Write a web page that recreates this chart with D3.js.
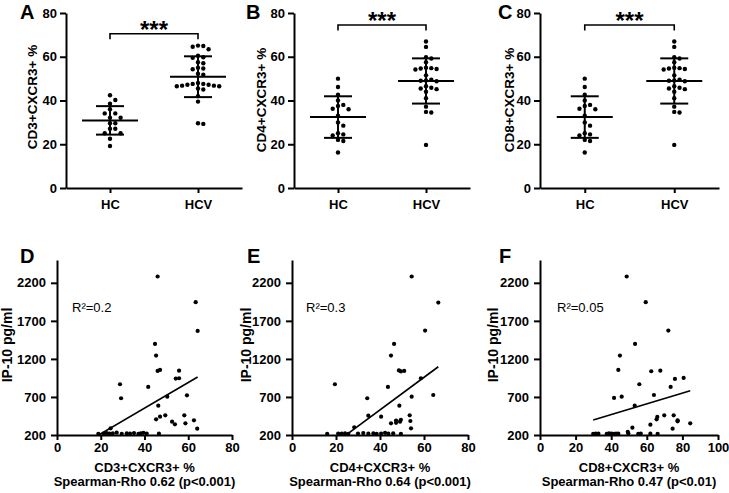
<!DOCTYPE html>
<html><head><meta charset="utf-8">
<script src="https://cdn.jsdelivr.net/npm/d3@7"></script>
<style>
body{margin:0;background:#fff}
text{font-family:"Liberation Sans",Arial,sans-serif}
</style>
</head><body>
<svg id="chart" width="729" height="493"></svg>
<script>
// ---------- data: top row (dot plots) ----------
const groups = ["HC", "HCV"];
const topTicks = [0, 20, 40, 60, 80];
const sigLabel = "***";
const topTitles = ["CD3+CXCR3+ %", "CD4+CXCR3+ %", "CD8+CXCR3+ %"];
const topLetters = ["A", "B", "C"];

const cd3HC  = [42.4, 40.2, 38.5, 36.0, 34.1, 34.1, 32.1, 32.1, 29.6, 29.6, 27.1, 27.1, 25.0, 25.0, 22.5, 19.2];
const cd3HCV = [65.1, 64.9, 64.6, 63.4, 60.5, 59.8, 59.5, 57.5, 57.0, 55.0, 54.6, 54.3, 52.2, 51.8, 48.0, 47.6, 47.2, 46.8, 46.5, 46.5, 46.8, 47.2, 47.6, 45.5, 45.0, 42.0, 39.5, 29.6, 29.3];
const cd4HC  = [50.0, 46.2, 42.6, 40.0, 38.0, 37.5, 36.2, 36.0, 33.0, 30.0, 28.5, 25.0, 24.5, 24.0, 22.0, 21.5, 16.2];
const cd4HCV = [67.0, 64.5, 59.8, 59.2, 57.5, 55.0, 54.8, 54.6, 54.4, 54.2, 51.5, 49.5, 49.2, 49.0, 48.8, 46.5, 45.8, 45.5, 45.2, 44.0, 41.0, 37.2, 34.8, 34.5, 19.7];
const cd8HC  = [50.0, 46.2, 42.6, 40.0, 38.0, 37.5, 36.2, 36.0, 33.0, 30.0, 28.5, 25.0, 24.5, 24.0, 22.0, 21.5, 16.2];
const cd8HCV = [67.0, 64.5, 59.8, 59.2, 57.5, 55.0, 54.8, 54.6, 54.4, 54.2, 51.5, 49.5, 49.2, 49.0, 48.8, 46.5, 45.8, 45.5, 45.2, 44.0, 41.0, 37.2, 34.8, 34.5, 19.7];

// ---------- data: bottom row (correlations) ----------
const ipTicks = [200, 700, 1200, 1700, 2200];
const xTicksDE = [0, 20, 40, 60, 80];
const xTicksF = [0, 20, 40, 60, 80, 100];
const bottomLetters = ["D", "E", "F"];
const bottomXTitles = ["CD3+CXCR3+ %", "CD4+CXCR3+ %", "CD8+CXCR3+ %"];
const rhoLabels = ["Spearman-Rho 0.62 (p<0.001)", "Spearman-Rho 0.64 (p<0.001)", "Spearman-Rho 0.47 (p<0.01)"];
const r2Labels = ["R²=0.2", "R²=0.3", "R²=0.05"];
const ipTitle = "IP-10 pg/ml";

const dX = [46.0, 63.4, 64.3, 44.8, 45.3, 46.0, 47.1, 55.8, 54.3, 55.8, 41.7, 28.8, 29.3, 50.4, 59.4, 46.3, 47.1, 45.3, 49.5, 52.6, 53.9, 58.2, 58.7, 62.6, 64.1, 24.5, 18.9, 21.2, 22.7, 23.9, 25.5, 27.3, 29.6, 31.9, 33.4, 35.2, 37.2, 38.3, 39.5, 41.0, 46.6];
const dY = [2283, 1946, 1568, 1397, 1244, 1042, 1055, 1046, 941, 946, 832, 867, 683, 704, 722, 586, 441, 406, 459, 375, 340, 459, 354, 393, 283, 288, 215, 220, 225, 218, 222, 230, 215, 222, 218, 225, 215, 222, 228, 220, 218];
const eX = [54.4, 66.5, 60.5, 46.4, 45.0, 48.6, 49.5, 51.0, 58.6, 19.5, 43.6, 34.2, 54.4, 64.2, 48.8, 34.7, 40.5, 45.0, 47.3, 47.3, 49.1, 53.5, 53.8, 54.1, 28.3, 49.5, 16.0, 21.0, 22.6, 24.1, 25.6, 30.0, 32.4, 34.7, 37.0, 38.5, 40.5, 42.3, 43.8, 46.0, 49.5];
const eY = [2283, 1941, 1572, 1397, 1244, 1049, 1036, 1042, 946, 867, 832, 683, 704, 726, 586, 454, 441, 354, 390, 360, 375, 459, 384, 288, 301, 400, 215, 220, 218, 222, 215, 220, 225, 218, 222, 215, 220, 228, 218, 222, 215];
const fX = [48.7, 59.4, 72.1, 53.4, 44.9, 44.0, 62.5, 67.6, 75.8, 80.7, 55.8, 73.4, 41.6, 45.9, 64.0, 53.2, 69.8, 75.1, 65.9, 65.5, 77.3, 77.3, 62.0, 84.4, 74.5, 51.9, 49.3, 29.9, 31.3, 32.8, 37.5, 38.8, 40.3, 41.6, 42.7, 44.0, 49.6, 55.2, 56.6, 62.0, 66.1];
const fY = [2283, 1946, 1572, 1397, 1244, 1055, 1038, 1046, 937, 950, 867, 832, 687, 704, 726, 586, 459, 459, 437, 406, 393, 380, 336, 354, 283, 296, 243, 215, 218, 220, 215, 222, 218, 215, 220, 218, 222, 215, 220, 218, 215];
const fitSlope = [16.85, 21.4, 7.08];
const fitIntercept = [-121, -326, 185];

// ---------- drawing ----------
const svg = d3.select("#chart");
const FONT = '"Liberation Sans", Arial, sans-serif';

function styleAxis(g, fs) {
  g.select(".domain").attr("stroke", "#000").attr("stroke-width", 2);
  g.selectAll(".tick line").attr("stroke", "#000").attr("stroke-width", 2);
  g.selectAll(".tick text").attr("fill", "#000").attr("font-size", fs).attr("font-weight", "bold").attr("font-family", FONT);
}

function swarm(vals, y, cx, step, minDist) {
  const placed = [];
  const sorted = vals.slice().sort((a, b) => b - a);
  sorted.forEach(v => {
    const py = y(v);
    for (let k = 0; k < 60; k++) {
      const m = Math.ceil(k / 2);
      const off = k === 0 ? 0 : (k % 2 ? m : -m) * step;
      const px = cx + off;
      if (placed.every(q => Math.hypot(q.x - px, q.y - py) >= minDist)) { placed.push({x: px, y: py}); break; }
    }
  });
  return placed;
}

const topCfg = [
  {x0: 66, x1: 242, data: [cd3HC, cd3HCV], tx: 37, ty: 97, lx: 20, bY: 33.7, sY: 38},
  {x0: 294, x1: 470, data: [cd4HC, cd4HCV], tx: 266, ty: 100, lx: 246, bY: 25, sY: 29},
  {x0: 540, x1: 719, data: [cd8HC, cd8HCV], tx: 514, ty: 100, lx: 498, bY: 25, sY: 29}
];

topCfg.forEach((c, i) => {
  const g = svg.append("g");
  const x = d3.scalePoint().domain(groups).range([c.x0, c.x1]).padding(0.5);
  const y = d3.scaleLinear().domain([0, 80]).range([188, 13]);
  const ya = g.append("g").attr("transform", `translate(${c.x0},0)`)
    .call(d3.axisLeft(y).tickValues(topTicks).tickFormat(d3.format("d")).tickSize(6).tickSizeOuter(0).tickPadding(3));
  styleAxis(ya, 13);
  const xa = g.append("g").attr("transform", `translate(0,188)`)
    .call(d3.axisBottom(x).tickSize(5).tickSizeOuter(0).tickPadding(7));
  styleAxis(xa, 13);

  c.data.forEach((vals, gi) => {
    const cx = x(groups[gi]);
    const pts = swarm(vals, y, cx, 5.3, 4.9);
    g.selectAll(null).data(pts).enter().append("circle")
      .attr("cx", d => d.x).attr("cy", d => d.y).attr("r", 2.2).attr("fill", "#000");
    const m = d3.mean(vals), s = d3.deviation(vals);
    g.append("line").attr("x1", cx - 28).attr("x2", cx + 28).attr("y1", y(m)).attr("y2", y(m)).attr("stroke", "#000").attr("stroke-width", 2);
    [m - s, m + s].forEach(v => g.append("line").attr("x1", cx - 14).attr("x2", cx + 14).attr("y1", y(v)).attr("y2", y(v)).attr("stroke", "#000").attr("stroke-width", 2));
    g.append("line").attr("x1", cx).attr("x2", cx).attr("y1", y(m - s)).attr("y2", y(m + s)).attr("stroke", "#000").attr("stroke-width", 2);
  });

  const xa1 = x(groups[0]), xa2 = x(groups[1]);
  g.append("path").attr("d", `M${xa1},${c.bY + 5.5}V${c.bY}H${xa2}V${c.bY + 5.5}`).attr("fill", "none").attr("stroke", "#000").attr("stroke-width", 1.6);
  g.append("text").attr("x", (xa1 + xa2) / 2).attr("y", c.sY).attr("text-anchor", "middle")
    .attr("font-size", 24).attr("font-weight", "bold").attr("font-family", FONT).text(sigLabel);

  g.append("text").attr("transform", `translate(${c.tx},${c.ty}) rotate(-90)`).attr("text-anchor", "middle")
    .attr("font-size", 13.5).attr("font-weight", "bold").attr("font-family", FONT).text(topTitles[i]);
  g.append("text").attr("x", c.lx).attr("y", 19).attr("font-size", 20).attr("font-weight", "bold").attr("font-family", FONT).text(topLetters[i]);
});

const botCfg = [
  {x0: 57, x1: 232, dom: [0, 80], ticks: xTicksDE, xs: dX, ys: dY, tx: 12, lx: 20, rx: 72},
  {x0: 292, x1: 468, dom: [0, 80], ticks: xTicksDE, xs: eX, ys: eY, tx: 251, lx: 247, rx: 306},
  {x0: 540, x1: 718, dom: [0, 100], ticks: xTicksF, xs: fX, ys: fY, tx: 498, lx: 499, rx: 557}
];

botCfg.forEach((c, i) => {
  const g = svg.append("g");
  const x = d3.scaleLinear().domain(c.dom).range([c.x0, c.x1]);
  const y = d3.scaleLinear().domain([200, 2500]).range([435, 260]);
  const clipId = "clip" + i;
  g.append("clipPath").attr("id", clipId).append("rect")
    .attr("x", c.x0).attr("y", 255).attr("width", c.x1 - c.x0 + 5).attr("height", 435 - 255);

  const pts = c.xs.map((v, k) => [v, c.ys[k]]);
  g.selectAll(null).data(pts).enter().append("circle")
    .attr("cx", d => x(d[0])).attr("cy", d => y(d[1])).attr("r", 2.1).attr("fill", "#000");

  const xmin = d3.min(c.xs), xmax = d3.max(c.xs);
  g.append("line").attr("clip-path", `url(#${clipId})`)
    .attr("x1", x(xmin)).attr("y1", y(fitIntercept[i] + fitSlope[i] * xmin))
    .attr("x2", x(xmax)).attr("y2", y(fitIntercept[i] + fitSlope[i] * xmax))
    .attr("stroke", "#000").attr("stroke-width", 1.6);

  const ya = g.append("g").attr("transform", `translate(${c.x0},0)`)
    .call(d3.axisLeft(y).tickValues(ipTicks).tickFormat(d3.format("d")).tickSize(6).tickSizeOuter(0).tickPadding(5));
  styleAxis(ya, 13);
  const xa = g.append("g").attr("transform", `translate(0,435)`)
    .call(d3.axisBottom(x).tickValues(c.ticks).tickFormat(d3.format("d")).tickSize(5).tickSizeOuter(0).tickPadding(3));
  styleAxis(xa, 13);

  const mid = (c.x0 + c.x1) / 2;
  g.append("text").attr("x", mid).attr("y", 472).attr("text-anchor", "middle")
    .attr("font-size", 13).attr("font-weight", "bold").attr("font-family", FONT).text(bottomXTitles[i]);
  g.append("text").attr("x", mid).attr("y", 486).attr("text-anchor", "middle")
    .attr("font-size", 13).attr("font-weight", "bold").attr("font-family", FONT).text(rhoLabels[i]);
  g.append("text").attr("transform", `translate(${c.tx},345) rotate(-90)`).attr("text-anchor", "middle")
    .attr("font-size", 14).attr("font-weight", "bold").attr("font-family", FONT).text(ipTitle);
  g.append("text").attr("x", c.lx).attr("y", 263).attr("font-size", 20).attr("font-weight", "bold").attr("font-family", FONT).text(bottomLetters[i]);
  g.append("text").attr("x", c.rx).attr("y", 312).attr("font-size", 13).attr("font-family", FONT).text(r2Labels[i]);
});
</script>
</body></html>
